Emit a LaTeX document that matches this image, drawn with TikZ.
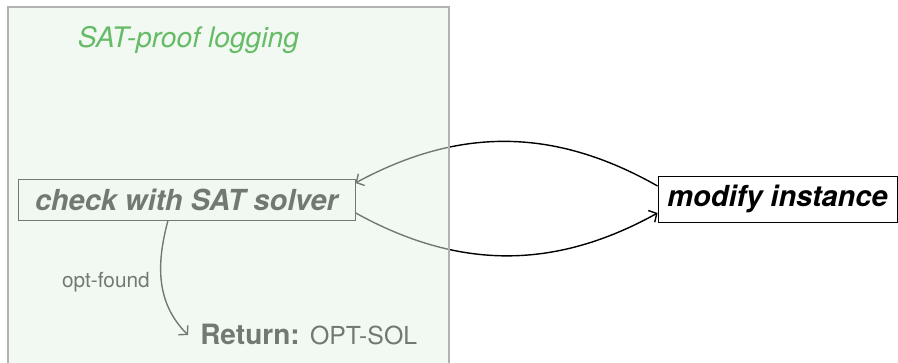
\documentclass[tikz,border=0pt]{standalone}
\usepackage{fontspec}
\setmainfont{TeX Gyre Heros}
\usetikzlibrary{arrows.meta}
\definecolor{ovl}{RGB}{229,241,229}
\definecolor{brd}{RGB}{178,178,178}
\definecolor{grn}{RGB}{102,187,102}
\begin{document}
\begin{tikzpicture}[x=0.75pt,y=-0.75pt,
  box/.style={draw, fill=white, line width=0.65pt, inner sep=0pt,
    font=\fontsize{21.75}{24}\selectfont\bfseries\itshape},
  conn/.style={line width=1.05pt, -{Straight Barb[length=4.5pt, width=10pt]}}]
\useasboundingbox (0,0) rectangle (898,363);
% nodes
\node[box, minimum width=252.75pt, minimum height=30.75pt] (check) at (186.5,199.5) {check with SAT solver};
\node[box, minimum width=179.25pt, minimum height=34.5pt] (mod) at (777.5,199) {modify instance};
\node[anchor=west, inner xsep=9pt, font=\fontsize{21}{24}\selectfont] (ret) at (188,335)
  {\textbf{Return:} {\fontsize{18.6}{20}\selectfont OPT-SOL}};
% connectors
\draw[conn] ([yshift=9.75pt]mod.west) to[bend right=29] ([yshift=12.4pt]check.east);
\draw[conn] ([yshift=-10pt]check.east) to[bend right=29] ([yshift=-10.5pt]mod.west);
\draw[conn] ([xshift=-13.9pt]check.south) to[out=-105,in=135]
  node[midway, left=5pt, font=\fontsize{15.6}{18}\selectfont] (lab) {opt-found} (ret.west);
% overlay region
\fill[ovl, fill opacity=0.5] (8,7) rectangle (449,380);
\draw[brd, line width=1.1pt] (8,380) -- (8,7) -- (449,7) -- (449,380);
\node[anchor=base, text=grn, font=\fontsize{21.2}{24}\selectfont\itshape] (title) at (188.5,48) {SAT-proof logging};
\end{tikzpicture}
\end{document}
